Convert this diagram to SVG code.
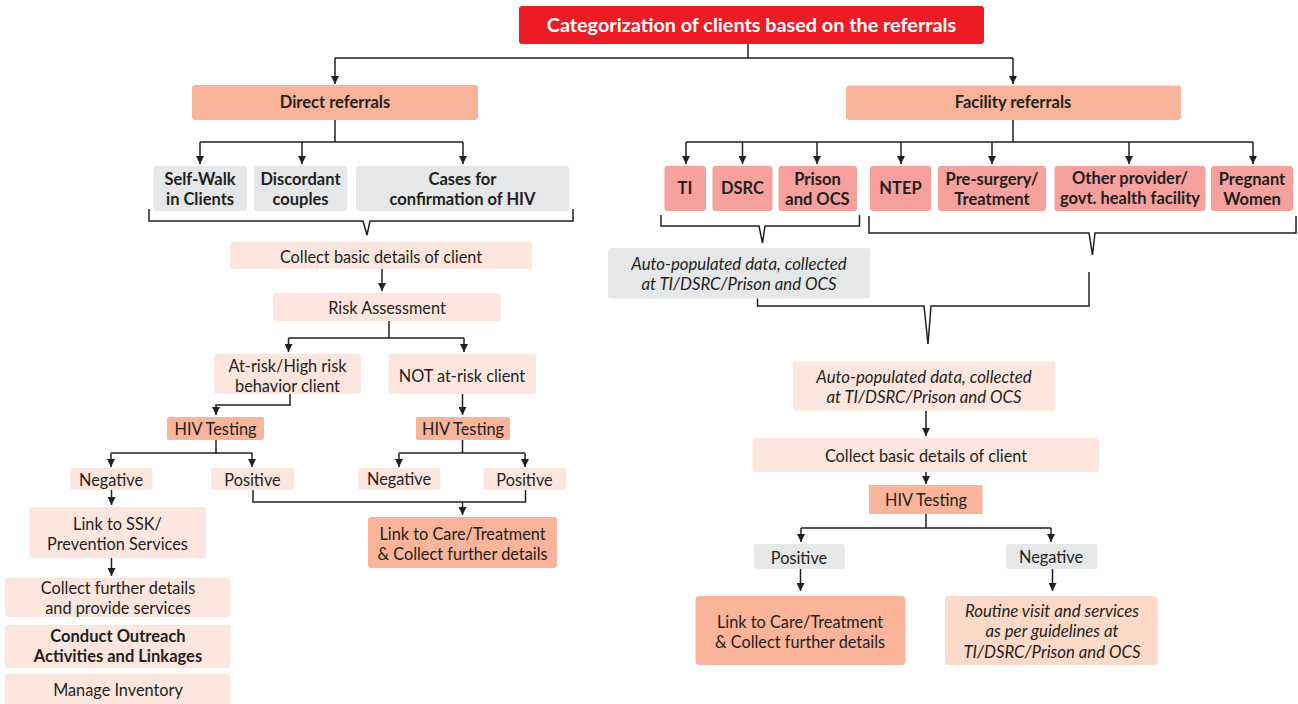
<svg xmlns="http://www.w3.org/2000/svg" width="1298" height="704" viewBox="0 0 1298 704">
<style>
text{font-family:Lato,"Open Sans","Liberation Sans",sans-serif;fill:#231F20;text-anchor:middle;dominant-baseline:central;font-size:16.3px}
.b{font-weight:bold;font-size:16.5px}
.i{font-style:italic;font-size:16.8px}
.title{fill:#fff;font-weight:bold;font-size:19.8px}
.red{fill:#ED1C24}
.sal{fill:#F9B49A}
.pnk{fill:#F6A19D}
.lt{fill:#FDE6DD}
.lt2{fill:#FDD9C9}
.gry{fill:#E6E7E8}
.c path{fill:none;stroke:#231F20;stroke-width:1.5}
</style>
<defs>
<marker id="ah" viewBox="0 0 10 10" refX="10" refY="5" markerWidth="8" markerHeight="8" orient="auto" markerUnits="userSpaceOnUse"><path d="M0,0 L10,5 L0,10 z" fill="#231F20"/></marker>
</defs>
<g class="c" id="connectors">
<path d="M748,44 V58"/>
<path d="M335,58 H1013"/>
<path d="M335,58 V84" marker-end="url(#ah)"/>
<path d="M1013,58 V84" marker-end="url(#ah)"/>
<path d="M335,120 V142 M200,142 H463"/>
<path d="M200,142 V164" marker-end="url(#ah)"/>
<path d="M302,142 V164" marker-end="url(#ah)"/>
<path d="M463,142 V164" marker-end="url(#ah)"/>
<path d="M149,209 V221 H363 L367,235 L370,221 H573 V209"/>
<path d="M382,269 V291" marker-end="url(#ah)"/>
<path d="M389,321 V338 M288.5,338 H464"/>
<path d="M288.5,338 V352" marker-end="url(#ah)"/>
<path d="M464,338 V352" marker-end="url(#ah)"/>
<path d="M290,394 V405 H216 V415" marker-end="url(#ah)"/>
<path d="M462.5,394 V415" marker-end="url(#ah)"/>
<path d="M216,440 V453 M111,453 H252"/>
<path d="M111,453 V467" marker-end="url(#ah)"/>
<path d="M252,453 V467" marker-end="url(#ah)"/>
<path d="M462.5,440 V453 M399,453 H525"/>
<path d="M399,453 V467" marker-end="url(#ah)"/>
<path d="M525,453 V467" marker-end="url(#ah)"/>
<path d="M111.5,490 V505" marker-end="url(#ah)"/>
<path d="M111.5,558 V576" marker-end="url(#ah)"/>
<path d="M253,490 V502 H525.5 V490"/>
<path d="M462.5,502 V515" marker-end="url(#ah)"/>
<path d="M1013,120 V142 M686,142 H1253"/>
<path d="M686,142 V164" marker-end="url(#ah)"/>
<path d="M742.5,142 V164" marker-end="url(#ah)"/>
<path d="M817,142 V164" marker-end="url(#ah)"/>
<path d="M901,142 V164" marker-end="url(#ah)"/>
<path d="M992,142 V164" marker-end="url(#ah)"/>
<path d="M1129,142 V164" marker-end="url(#ah)"/>
<path d="M1253,142 V164" marker-end="url(#ah)"/>
<path d="M661,215 V226 H759 L762.5,243 L765,226 H859.5 V215"/>
<path d="M869,216 V233 H1089 L1092.5,255 L1095,233 H1296 V216"/>
<path d="M757.5,298 V306 H924 L928,344 L931,306 H1089 V272"/>
<path d="M926,411 V436" marker-end="url(#ah)"/>
<path d="M926,472 V484" marker-end="url(#ah)"/>
<path d="M926,514 V528 M801,528 H1051"/>
<path d="M801,528 V542" marker-end="url(#ah)"/>
<path d="M1051,528 V542" marker-end="url(#ah)"/>
<path d="M800.5,569 V591" marker-end="url(#ah)"/>
<path d="M1052.5,569 V591" marker-end="url(#ah)"/>
</g>
<g id="n-title"><rect class="red" x="519" y="6" width="465" height="38" rx="3"/><text class="title" x="751.5" y="24">Categorization of clients based on the referrals</text></g>
<g id="n-direct"><rect class="sal" x="192" y="85" width="286" height="35" rx="3"/><text class="b" x="335" y="102">Direct referrals</text></g>
<g id="n-selfwalk"><rect class="gry" x="153.5" y="166" width="93.5" height="45" rx="3"/><text class="b" x="200" y="178.5">Self-Walk</text><text class="b" x="200" y="198.5">in Clients</text></g>
<g id="n-discordant"><rect class="gry" x="254" y="166" width="93" height="45" rx="3"/><text class="b" x="300.5" y="178.5">Discordant</text><text class="b" x="300.5" y="198.5">couples</text></g>
<g id="n-cases"><rect class="gry" x="356" y="166" width="213" height="45" rx="3"/><text class="b" x="462.5" y="178.5">Cases for</text><text class="b" x="462.5" y="198.5">confirmation of HIV</text></g>
<g id="n-collect1"><rect class="lt" x="230" y="242" width="302" height="27" rx="3"/><text x="381" y="256">Collect basic details of client</text></g>
<g id="n-risk"><rect class="lt" x="273" y="293" width="228" height="28" rx="3"/><text x="387" y="307">Risk Assessment</text></g>
<g id="n-atrisk"><rect class="lt" x="214" y="354" width="147" height="40" rx="3"/><text x="287.5" y="365">At-risk/High risk</text><text x="287.5" y="385">behavior client</text></g>
<g id="n-notrisk"><rect class="lt" x="388.5" y="354" width="147.5" height="40" rx="3"/><text x="462" y="375">NOT at-risk client</text></g>
<g id="n-hiv1"><rect class="sal" x="167" y="417" width="97" height="23" rx="2"/><text x="215.5" y="428.5">HIV Testing</text></g>
<g id="n-hiv2"><rect class="sal" x="416" y="417" width="94" height="23" rx="2"/><text x="463" y="428.5">HIV Testing</text></g>
<g id="n-neg1"><rect class="lt" x="70" y="468" width="82.5" height="22" rx="3"/><text x="111" y="479">Negative</text></g>
<g id="n-pos1"><rect class="lt" x="211" y="468" width="83" height="22" rx="3"/><text x="252.5" y="479">Positive</text></g>
<g id="n-neg2"><rect class="lt" x="358" y="468" width="82.5" height="22" rx="3"/><text x="399" y="478">Negative</text></g>
<g id="n-pos2"><rect class="lt" x="483.5" y="468" width="82.5" height="22" rx="3"/><text x="524.5" y="479">Positive</text></g>
<g id="n-ssk"><rect class="lt" x="29.5" y="507" width="176.5" height="51" rx="3"/><text x="117.5" y="523.5">Link to SSK/</text><text x="117.5" y="543.5">Prevention Services</text></g>
<g id="n-further"><rect class="lt" x="5" y="578" width="225.5" height="39" rx="3"/><text x="118" y="587">Collect further details</text><text x="118" y="607">and provide services</text></g>
<g id="n-outreach"><rect class="lt" x="5" y="625" width="225.5" height="43" rx="3"/><text class="b" x="118" y="636">Conduct Outreach</text><text class="b" x="118" y="656">Activities and Linkages</text></g>
<g id="n-inventory"><rect class="lt" x="5" y="674" width="225.5" height="40" rx="3"/><text x="118" y="689">Manage Inventory</text></g>
<g id="n-care1"><rect class="sal" x="368" y="517" width="189" height="51" rx="3"/><text x="462.5" y="533">Link to Care/Treatment</text><text x="462.5" y="553">&amp; Collect further details</text></g>
<g id="n-facility"><rect class="sal" x="846" y="85.5" width="335" height="34.5" rx="3"/><text class="b" x="1013" y="102">Facility referrals</text></g>
<g id="n-ti"><rect class="pnk" x="664.5" y="166" width="41.5" height="45" rx="3"/><text class="b" x="685" y="188">TI</text></g>
<g id="n-dsrc"><rect class="pnk" x="712.5" y="166" width="60" height="45" rx="3"/><text class="b" x="742.5" y="188">DSRC</text></g>
<g id="n-prison"><rect class="pnk" x="778.5" y="166" width="78.5" height="45" rx="3"/><text class="b" x="817.5" y="178.5">Prison</text><text class="b" x="817.5" y="198.5">and OCS</text></g>
<g id="n-ntep"><rect class="pnk" x="870" y="166" width="61" height="45" rx="3"/><text class="b" x="900.5" y="188">NTEP</text></g>
<g id="n-presurgery"><rect class="pnk" x="938" y="166" width="108" height="45" rx="3"/><text class="b" x="992" y="178.5">Pre-surgery/</text><text class="b" x="992" y="198.5">Treatment</text></g>
<g id="n-other"><rect class="pnk" x="1054.5" y="166" width="151" height="45" rx="3"/><text class="b" x="1130" y="178">Other provider/</text><text class="b" x="1130" y="198">govt. health facility</text></g>
<g id="n-pregnant"><rect class="pnk" x="1211" y="166" width="82" height="45" rx="3"/><text class="b" x="1252" y="178.5">Pregnant</text><text class="b" x="1252" y="198.5">Women</text></g>
<g id="n-auto1"><rect class="gry" x="608" y="248" width="262" height="50.5" rx="3"/><text class="i" x="739" y="263">Auto-populated data, collected</text><text class="i" x="739" y="283.5">at TI/DSRC/Prison and OCS</text></g>
<g id="n-auto2"><rect class="lt" x="793" y="361.5" width="262.5" height="49" rx="3"/><text class="i" x="924" y="376">Auto-populated data, collected</text><text class="i" x="924" y="396.5">at TI/DSRC/Prison and OCS</text></g>
<g id="n-collect2"><rect class="lt" x="752.5" y="438" width="346.5" height="34" rx="3"/><text x="926" y="455">Collect basic details of client</text></g>
<g id="n-hiv3"><rect class="sal" x="869" y="485" width="113.5" height="29"/><text x="926" y="499.5">HIV Testing</text></g>
<g id="n-pos3"><rect class="gry" x="754" y="544" width="91" height="25" rx="3"/><text x="799" y="557">Positive</text></g>
<g id="n-neg3"><rect class="gry" x="1006" y="544" width="91" height="25" rx="3"/><text x="1051" y="556">Negative</text></g>
<g id="n-care2"><rect class="sal" x="695.5" y="596" width="210" height="69" rx="4"/><text x="800" y="621">Link to Care/Treatment</text><text x="800" y="641">&amp; Collect further details</text></g>
<g id="n-routine"><rect class="lt2" x="945" y="596" width="213" height="69" rx="4"/><text class="i" x="1052" y="610">Routine visit and services</text><text class="i" x="1052" y="630.5">as per guidelines at</text><text class="i" x="1052" y="651">TI/DSRC/Prison and OCS</text></g>
</svg>
